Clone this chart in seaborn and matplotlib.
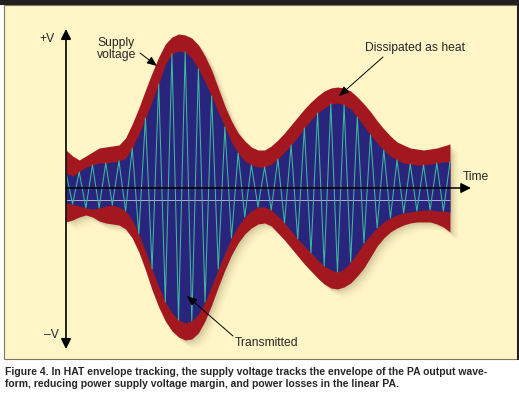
import numpy as np
import matplotlib
matplotlib.use("Agg")
import matplotlib.pyplot as plt
import seaborn as sns
from matplotlib.patches import Rectangle

# --- data ---------------------------------------------------------------
# carrier half-cycle index (one crest per step)
time = np.arange(59)

# PA output envelope (blue area), arbitrary voltage units, 0 = time axis
env_hi = [15, 12, 16, 21, 23, 25, 25, 26, 27, 30,
          40, 54, 70, 87, 104, 124, 134, 137, 136, 130,
          119, 106, 92, 76, 61, 46, 35, 27, 23, 21,
          21, 24, 29, 36, 43, 51, 60, 68, 75, 80,
          84, 85, 83, 79, 71, 62, 53, 45, 38, 32,
          28, 25, 24, 23, 23, 24, 25, 26, 26]
env_lo = [-15, -16, -18, -20, -21, -20, -18, -17, -19, -23,
          -32, -46, -63, -81, -99, -114, -125, -132, -135, -133,
          -126, -114, -98, -81, -65, -50, -38, -29, -23, -19,
          -19, -22, -28, -35, -43, -51, -58, -65, -72, -78,
          -82, -84, -81, -74, -65, -55, -47, -40, -34, -30,
          -27, -25, -24, -23, -22, -22, -23, -23, -24]

# tracking supply voltage (outer edge of the red band)
supply_hi = [38, 32, 28, 32, 36, 40, 41, 42, 43, 50,
             64, 80, 98, 115, 131, 144, 151, 154, 153, 150,
             143, 132, 118, 100, 82, 67, 55, 47, 41, 38,
             38, 42, 48, 55, 63, 71, 79, 86, 92, 97,
             100, 101, 100, 97, 91, 84, 76, 67, 59, 52,
             46, 43, 40, 39, 38, 39, 40, 42, 44]
supply_lo = [-34, -32, -29, -27, -29, -33, -35, -36, -37, -41,
             -50, -64, -82, -102, -119, -133, -143, -149, -152, -151,
             -145, -133, -117, -99, -82, -67, -55, -46, -40, -36,
             -35, -38, -45, -52, -60, -68, -76, -83, -90, -96,
             -100, -101, -99, -95, -88, -80, -69, -58, -50, -44,
             -40, -37, -35, -34, -34, -34, -36, -39, -44]

carrier_ref = -12  # faint centre line of the carrier

caption = ["Figure 4. In HAT envelope tracking, the supply voltage tracks the envelope of the PA output wave-",
           "form, reducing power supply voltage margin, and power losses in the linear PA."]

# --- style ---------------------------------------------------------------
CREAM = "#fff5c6"
RED = "#a3181e"
NAVY = "#29257c"
TEAL = "#3fb89e"

sns.set_theme(style="white")
plt.rcParams["font.family"] = ["Liberation Sans", "DejaVu Sans"]

W, H = 519, 397
fig = plt.figure(figsize=(W / 100, H / 100), dpi=100)
fig.patch.set_facecolor("white")

# background panel in pixel coordinates
bg = fig.add_axes([0, 0, 1, 1], zorder=0)
bg.set_xlim(0, W)
bg.set_ylim(H, 0)
bg.axis("off")
bg.add_patch(Rectangle((0, 0), W, 5, color="#231f20", lw=0))
bg.add_patch(Rectangle((4, 5), 513, 354, facecolor=CREAM, edgecolor="#7d7762", lw=0.8))
bg.add_patch(Rectangle((516.5, 0), 2.5, 360, color="#231f20", lw=0))

# waveform axes: 1 voltage unit = 1 px, carrier spans x=66..450 px
ax = fig.add_axes([0, 0, 1, 1], zorder=1)
ax.patch.set_alpha(0)
step = (450 - 66) / (len(time) - 1)
ax.set_xlim(-66 / step, (W - 66) / step)
ax.set_ylim(188 - H, 188)
ax.axis("off")

s_hi = np.array(supply_hi)
s_lo = np.array(supply_lo)
# soft drop shadow
for k, a in [(2, 0.10), (4, 0.07), (6, 0.05), (8, 0.03)]:
    ax.fill_between(time + k / step, s_lo - k, s_hi - k, color="#5a5030", alpha=a, lw=0)

ax.fill_between(time, s_lo, s_hi, color=RED, lw=0)
ax.fill_between(time, env_lo, env_hi, color=NAVY, lw=0)
ax.hlines(carrier_ref, time[0], time[-1], color="#c9c6dc", lw=0.6)

carrier = np.where(time % 2 == 0, env_hi, env_lo)
sns.lineplot(x=time, y=carrier, ax=ax, color=TEAL, lw=0.75, legend=False)

# labels and arrows in pixel coordinates
top = fig.add_axes([0, 0, 1, 1], zorder=2)
top.patch.set_alpha(0)
top.set_xlim(0, W)
top.set_ylim(H, 0)
top.axis("off")

top.annotate("", xy=(66, 29), xytext=(66, 349),
             arrowprops=dict(arrowstyle="<|-|>,head_length=0.5,head_width=0.25",
                             color="black", lw=1.2, mutation_scale=12, shrinkA=0, shrinkB=0))
top.annotate("", xy=(471, 188), xytext=(66, 188),
             arrowprops=dict(arrowstyle="-|>,head_length=0.5,head_width=0.25",
                             color="black", lw=1.1, mutation_scale=12, shrinkA=0, shrinkB=0))

fs = 8.7
top.text(47, 39, "+V", fontsize=fs, ha="center", va="center")
top.text(51, 335, "\u2013V", fontsize=fs, ha="center", va="center")
top.text(97, 49, "Supply\nvoltage", fontsize=fs, ha="left", va="center", linespacing=0.95)
top.text(365, 48, "Dissipated as heat", fontsize=fs, ha="left", va="center")
top.text(235, 343, "Transmitted", fontsize=fs, ha="left", va="center")
top.text(463, 177, "Time", fontsize=fs, ha="left", va="center")

small = dict(arrowstyle="-|>,head_length=0.6,head_width=0.25", color="black",
             lw=0.7, mutation_scale=10, shrinkA=0, shrinkB=0)
top.annotate("", xy=(157, 66), xytext=(140, 53), arrowprops=small)
top.annotate("", xy=(339, 96), xytext=(383, 57), arrowprops=small)
top.annotate("", xy=(187, 296), xytext=(233, 336), arrowprops=small)

for i, line in enumerate(caption):
    top.text(5, 372 + 12 * i, line, fontsize=7.5, fontweight="bold", ha="left", va="center")

fig.savefig("out.png", dpi=100)
